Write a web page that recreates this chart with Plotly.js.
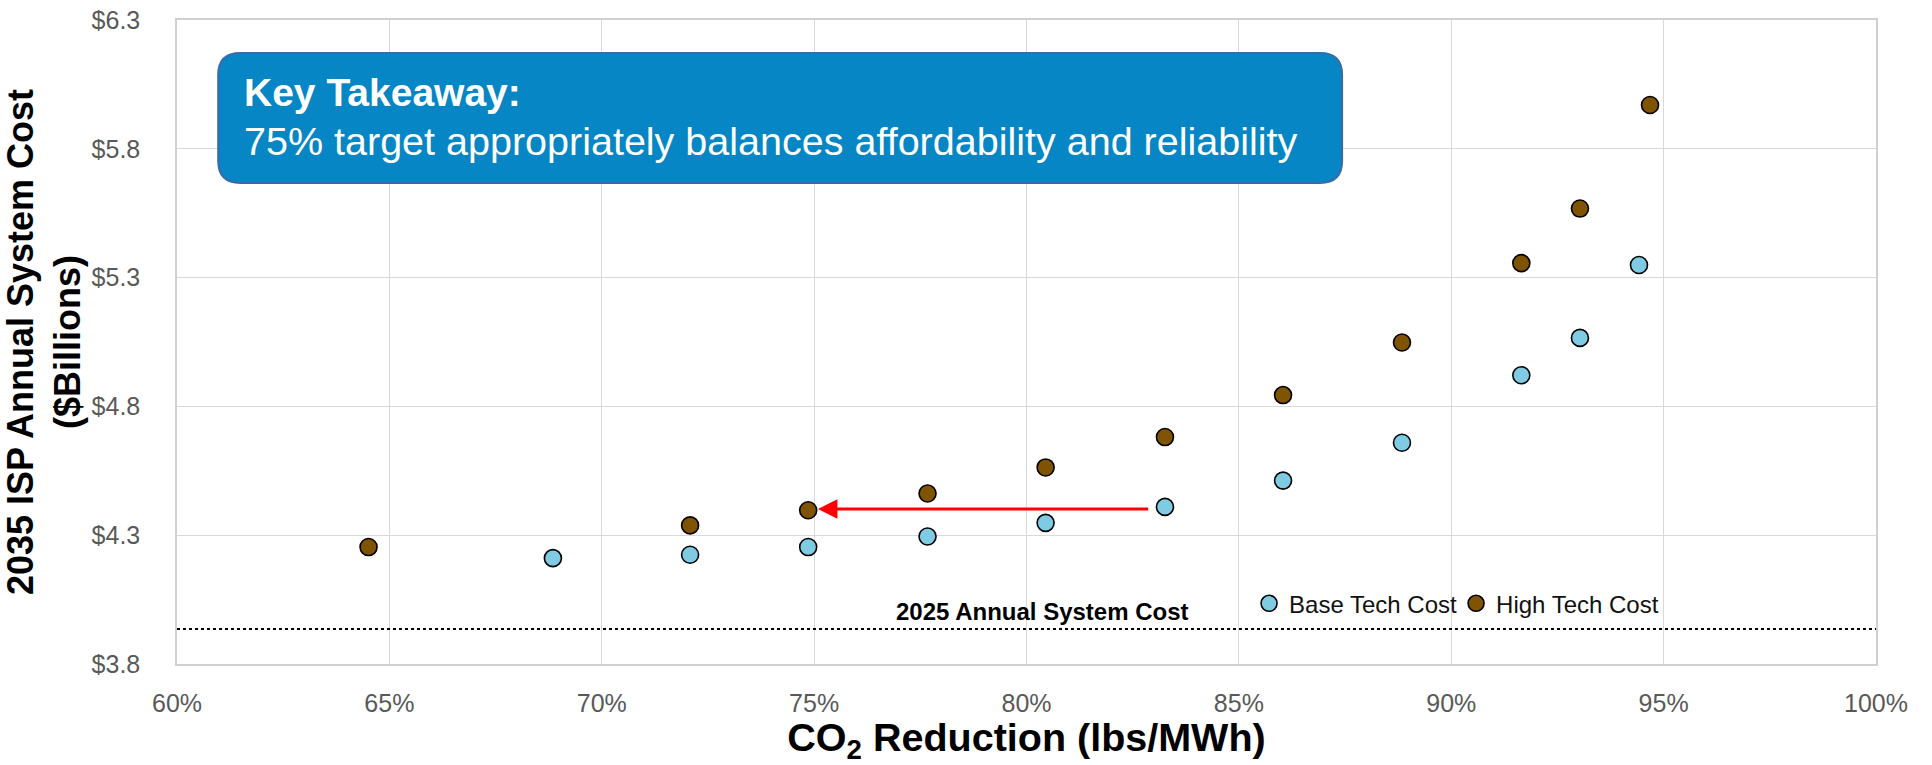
<!DOCTYPE html>
<html>
<head>
<meta charset="utf-8">
<script src="https://cdn.plot.ly/plotly-3.0.1.min.js"></script>
<style>
  html, body { margin: 0; padding: 0; background: #ffffff; }
  #chart { width: 1932px; height: 765px; }
</style>
</head>
<body>
<div id="chart"></div>
<script>
// ---- Data ----
const baseTechReduction = [68.85, 72.08, 74.86, 77.67, 80.45, 83.26, 86.04, 88.84, 91.65, 93.03, 94.42];
const baseTechCost      = [4.211, 4.224, 4.254, 4.295, 4.348, 4.410, 4.512, 4.659, 4.921, 5.066, 5.349];
const highTechReduction = [64.51, 72.08, 74.86, 77.67, 80.45, 83.26, 86.04, 88.84, 91.65, 93.03, 94.68];
const highTechCost      = [4.254, 4.338, 4.397, 4.462, 4.563, 4.681, 4.844, 5.048, 5.356, 5.568, 5.970];
const seriesNames = ["Base Tech Cost", "High Tech Cost"];

const xTickVals = [60, 65, 70, 75, 80, 85, 90, 95, 100];
const xTickText = ["60%", "65%", "70%", "75%", "80%", "85%", "90%", "95%", "100%"];
const yTickVals = [3.8, 4.3, 4.8, 5.3, 5.8, 6.3];
const yTickText = ["$3.8", "$4.3", "$4.8", "$5.3", "$5.8", "$6.3"];

const cost2025 = 3.936;           // 2025 Annual System Cost reference line
const arrowFrom = [82.9, 4.402];  // arrow start (reduction %, cost)
const arrowTo   = [75.09, 4.402]; // arrow tip

const baseFont = '"Liberation Sans", Arial, "Helvetica Neue", Helvetica, sans-serif';

const traces = [
  {
    type: 'scatter', mode: 'markers', name: seriesNames[0],
    x: baseTechReduction, y: baseTechCost,
    marker: { size: 17, color: '#7ECBE3', line: { color: '#000000', width: 1.6 } },
    hoverinfo: 'x+y'
  },
  {
    type: 'scatter', mode: 'markers', name: seriesNames[1],
    x: highTechReduction, y: highTechCost,
    marker: { size: 17, color: '#7F5300', line: { color: '#000000', width: 1.6 } },
    hoverinfo: 'x+y'
  }
];

// rounded box for the key takeaway (data coordinates)
const bx0 = 60.97, bx1 = 87.43, by0 = 5.6675, by1 = 6.172;
const rdx = 0.52, rdy = 0.085;
const boxPath =
  `M ${bx0 + rdx},${by1} L ${bx1 - rdx},${by1} Q ${bx1},${by1} ${bx1},${by1 - rdy} ` +
  `L ${bx1},${by0 + rdy} Q ${bx1},${by0} ${bx1 - rdx},${by0} ` +
  `L ${bx0 + rdx},${by0} Q ${bx0},${by0} ${bx0},${by0 + rdy} ` +
  `L ${bx0},${by1 - rdy} Q ${bx0},${by1} ${bx0 + rdx},${by1} Z`;

const layout = {
  width: 1932, height: 765,
  margin: { l: 177, r: 56, t: 20, b: 101 },
  paper_bgcolor: '#ffffff', plot_bgcolor: '#ffffff',
  font: { family: baseFont, color: '#595959', size: 25 },
  showlegend: true,
  legend: {
    orientation: 'h',
    x: 0.631, xanchor: 'left',
    y: 0.0936, yanchor: 'middle',
    entrywidthmode: 'pixels', entrywidth: 162,
    font: { family: baseFont, size: 24, color: '#111111' },
    bgcolor: 'rgba(0,0,0,0)',
    itemclick: false, itemdoubleclick: false
  },
  xaxis: {
    range: [60, 100],
    tickmode: 'array', tickvals: xTickVals, ticktext: xTickText,
    showgrid: true, gridcolor: '#d9d9d9', gridwidth: 1.3,
    showline: true, mirror: true, linecolor: '#d0d0d0', linewidth: 1.5,
    zeroline: false,
    ticks: '', ticklabelstandoff: 16,
    tickfont: { family: baseFont, size: 25, color: '#595959' },
    title: {
      text: 'CO<sub>2</sub> Reduction (lbs/MWh)',
      font: { family: baseFont, size: 39.5, color: '#000000', weight: 'bold' },
      standoff: 19
    },
    fixedrange: true
  },
  yaxis: {
    range: [3.8, 6.3],
    tickmode: 'array', tickvals: yTickVals, ticktext: yTickText,
    showgrid: true, gridcolor: '#d9d9d9', gridwidth: 1.3,
    showline: true, mirror: true, linecolor: '#d0d0d0', linewidth: 1.5,
    zeroline: false,
    ticks: '', ticklabelstandoff: 30,
    tickfont: { family: baseFont, size: 25, color: '#595959' },
    title: {
      text: '2035 ISP Annual System Cost<br>($Billions)',
      font: { family: baseFont, size: 36, color: '#000000', weight: 'bold' },
      standoff: 2
    },
    fixedrange: true
  },
  shapes: [
    {
      type: 'line', xref: 'paper', yref: 'y',
      x0: 0, x1: 1, y0: cost2025, y1: cost2025,
      line: { color: '#000000', width: 2, dash: 'dot' }, layer: 'above'
    },
    {
      type: 'path', xref: 'x', yref: 'y', path: boxPath,
      fillcolor: '#0686C4', line: { color: '#3B6AA6', width: 2 }, layer: 'above'
    }
  ],
  annotations: [
    {
      xref: 'x', yref: 'y', x: 61.54, y: 6.0167, xanchor: 'left', yanchor: 'middle',
      text: '<b>Key Takeaway:</b>', showarrow: false,
      font: { family: baseFont, size: 39, color: '#ffffff' }
    },
    {
      xref: 'x', yref: 'y', x: 61.54, y: 5.8312, xanchor: 'left', yanchor: 'middle',
      text: '75% target appropriately balances affordability and reliability', showarrow: false,
      font: { family: baseFont, size: 39.5, color: '#ffffff' }
    },
    {
      xref: 'x', yref: 'y', x: 80.37, y: 4.003, xanchor: 'center', yanchor: 'middle',
      text: '<b>2025 Annual System Cost</b>', showarrow: false,
      font: { family: baseFont, size: 24, color: '#000000' }
    },
    {
      xref: 'x', yref: 'y', axref: 'x', ayref: 'y',
      x: arrowTo[0], y: arrowTo[1], ax: arrowFrom[0], ay: arrowFrom[1],
      text: '', showarrow: true, arrowhead: 2, arrowsize: 1.3, arrowwidth: 3,
      arrowcolor: '#FF0000', standoff: 0, startstandoff: 0
    }
  ]
};

Plotly.newPlot('chart', traces, layout, { displayModeBar: false, responsive: false });
</script>
</body>
</html>
